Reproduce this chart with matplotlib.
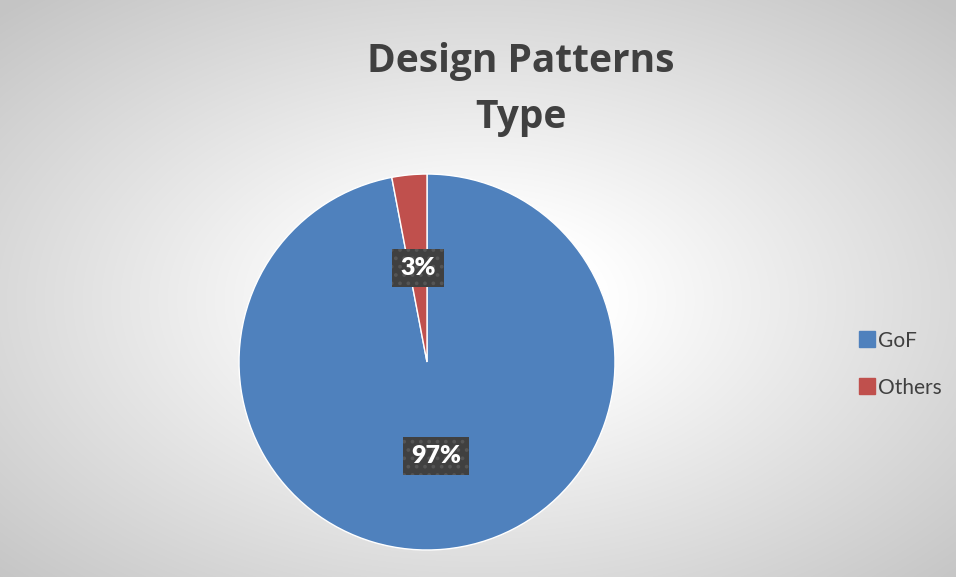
import numpy as np
import matplotlib.pyplot as plt
from matplotlib.lines import Line2D

# datos del gráfico
categories = ['GoF', 'Others']
values = [97, 3]
colors = ['#4f81bd', '#c0504d']
title = 'Design Patterns\nType'

plt.rcParams['font.family'] = ['Lato', 'DejaVu Sans']
plt.rcParams['hatch.linewidth'] = 1.5

W, H = 956, 577
fig = plt.figure(figsize=(W / 100, H / 100), dpi=100)

# fondo con degradado radial
bg = fig.add_axes([0, 0, 1, 1], zorder=-1)
yy, xx = np.mgrid[0:H, 0:W]
d = np.sqrt(((xx - 478) / 478) ** 2 + ((yy - 300) / 288) ** 2) / np.sqrt(2)
g = 1 - 0.23 * np.clip((d - 0.18) / 0.82, 0, 1)
bg.imshow(np.dstack([g, g, g]), aspect='auto', extent=[0, W, H, 0])
bg.set_xlim(0, W)
bg.set_ylim(H, 0)
bg.axis('off')

# tarta
ax = fig.add_axes([0.25, 0.0468, 0.3933, 0.6516])
wedges, texts, autotexts = ax.pie(
    values, colors=colors, startangle=90, counterclock=False,
    autopct='%1.0f%%', pctdistance=0.5, radius=1,
    wedgeprops=dict(edgecolor='white', linewidth=1),
)
for t in autotexts:
    t.set_color('white')
    t.set_fontsize(18)
    t.set_fontweight('heavy')
    t.set_bbox(dict(boxstyle='square,pad=0.32', facecolor='#404040',
                    edgecolor='#555555', linewidth=0, hatch='..'))
ax.set_xlim(-1, 1)
ax.set_ylim(-1, 1)
ax.set_aspect('equal')

fig.text(0.545, 0.928, title, ha='center', va='top', fontsize=28,
         fontweight='bold', color='#404040', linespacing=1.57,
         family=['Open Sans', 'DejaVu Sans'])

handles = [Line2D([], [], marker='s', linestyle='', markersize=11,
                  markerfacecolor=c, markeredgecolor=c) for c in colors]
fig.legend(handles, categories, loc='center left', bbox_to_anchor=(0.876, 0.369),
           frameon=False, fontsize=15, labelcolor='#404040',
           handletextpad=0.05, labelspacing=1.3, handlelength=1.0)

fig.savefig('out.png', dpi=100)
